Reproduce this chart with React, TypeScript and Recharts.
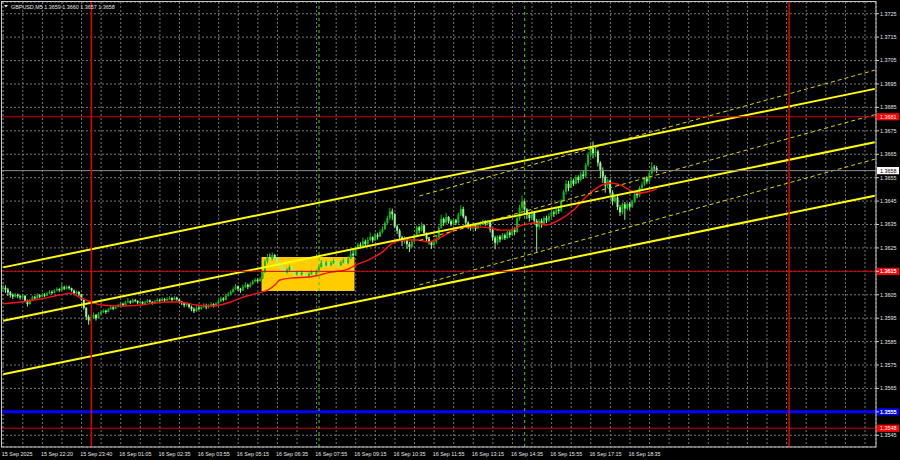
import React from 'react';
import { ComposedChart, Bar, Line, XAxis, YAxis, CartesianGrid, ReferenceLine, ReferenceArea } from 'recharts';

// ---- data (candle values are in pips above 1.3500) ----
const PRICE_BASE = 1.35;
const PIP = 0.0001;
const TOTAL_SLOTS = 357; // visible bar slots on the time axis
const GRID_STEP = 8;
const LABEL_STEP = 16;

const timeLabels = [
  '15 Sep 2025', '15 Sep 22:20', '15 Sep 23:40', '16 Sep 01:05', '16 Sep 02:35', '16 Sep 03:55',
  '16 Sep 05:15', '16 Sep 06:35', '16 Sep 07:55', '16 Sep 09:15', '16 Sep 10:35', '16 Sep 11:55',
  '16 Sep 13:15', '16 Sep 14:35', '16 Sep 15:55', '16 Sep 17:15', '16 Sep 18:35',
];

const yTicks = [
  1.3545, 1.3555, 1.3565, 1.3575, 1.3585, 1.3595, 1.3605, 1.3615, 1.3625, 1.3635,
  1.3645, 1.3655, 1.3665, 1.3675, 1.3685, 1.3695, 1.3705, 1.3715, 1.3725,
];
const yDomain = [1.354, 1.373];

const firstOpen = 107.5;
const closes = [
  108.0, 107.2, 106.0, 105.0,
  104.2, 105.0, 104.4, 103.8, 104.6,
  102.5, 101.0,
  102.8, 104.0, 103.5, 104.8, 104.2,
  105.0, 104.6, 105.6, 106.2, 105.8, 106.8, 107.4, 106.9, 108.2, 107.6, 108.4, 107.8, 106.8,
  105.6, 106.2, 105.2,
  103.0, 99.4, 95.6, 94.0,
  95.2, 96.4, 95.0, 96.8,
  97.6, 98.2, 97.6, 98.8, 99.6, 99.0, 99.8, 100.6,
  101.2, 100.6, 101.8, 102.2, 101.6, 102.8, 102.4, 101.6, 102.0, 101.2, 101.8, 102.6, 102.0, 101.4, 102.2, 102.8, 102.4, 103.2, 102.6,
  103.2, 103.6, 102.8, 103.8, 103.0, 102.2,
  101.4, 100.6, 101.2, 99.8, 98.8, 98.0, 99.4,
  99.0, 99.8, 100.6, 99.6, 100.4, 101.0, 100.2, 101.2,
  102.2, 103.4, 102.8, 104.6, 105.2, 106.2,
  107.4, 108.6, 107.6, 106.8, 108.4, 109.2, 108.4,
  109.6, 110.6, 111.4, 110.8, 111.8,
  114.6, 119.4, 121.0, 120.4, 122.0,
  120.8, 118.2, 117.4, 116.0, 114.6, 115.6, 116.8, 115.2, 114.0,
  114.6, 113.6, 114.4, 113.2, 112.8, 113.8, 114.6, 113.8,
  115.2, 116.8, 118.6, 117.6, 118.8,
  117.8, 118.6, 119.4, 118.2, 117.6, 118.8, 119.6, 118.6, 120.4, 122.6, 121.8,
  124.8, 126.4, 125.8, 127.8, 126.6, 128.4, 129.6, 128.2,
  130.6, 129.8, 131.8, 133.0,
  135.6, 137.8, 140.6, 139.4,
  134.2, 132.4, 129.6, 127.8, 128.6,
  126.6, 125.4, 127.8,
  130.6, 133.8, 132.4, 134.6, 131.4,
  129.0, 127.4, 126.2, 127.6, 128.8,
  133.6, 137.4, 135.8, 138.2,
  136.4, 135.2, 136.8, 135.8,
  139.2, 141.6, 138.4,
  135.8, 134.2, 133.4, 134.8, 133.2, 134.6,
  135.6, 136.4, 135.2, 136.0,
  132.8, 129.4, 127.2, 129.8, 128.6,
  130.4, 129.2, 131.6, 130.6, 132.8, 131.8,
  137.6, 142.2, 144.8,
  141.4, 139.2, 137.8, 140.2, 136.6, 134.0,
  136.6, 135.4, 137.8, 136.8, 138.6,
  140.2, 139.6, 141.4, 140.8,
  145.2, 149.0, 152.4, 150.6,
  153.8, 152.4, 155.2, 154.0, 156.4, 155.6,
  160.4, 164.8,
  167.6, 165.4,
  166.2, 161.4, 158.2,
  155.4, 151.6, 153.8,
  148.6, 145.0, 146.6, 142.4, 140.2, 143.6,
  141.8, 143.8, 142.6, 144.8,
  148.2, 147.4, 150.6, 152.0,
  154.6, 153.4, 156.8, 159.4,
  159.0, 158.0,
];
const highs = [
  109.3, 109.0, 108.0, 106.6,
  105.6, 105.8, 105.5, 105.0, 105.4,
  104.8, 103.0,
  103.4, 104.6, 104.5, 105.6, 105.2,
  105.8, 105.7, 106.3, 107.0, 106.9, 107.4, 108.2, 107.8, 109.8, 108.9, 109.0, 108.9, 108.0,
  107.2, 106.8, 106.6,
  105.4, 103.4, 99.8, 96.5,
  96.5, 97.4, 96.8, 97.5,
  98.2, 98.8, 98.6, 99.4, 100.2, 100.1, 100.5, 101.2,
  102.0, 101.6, 102.4, 103.6, 102.6, 103.4, 103.2, 102.6, 102.6, 102.2, 102.4, 103.2, 103.0, 102.2, 102.8, 103.6, 103.2, 103.9, 103.6,
  104.0, 104.4, 104.0, 104.4, 104.2, 103.2,
  102.4, 101.8, 101.8, 101.4, 100.4, 99.6, 100.2,
  100.0, 100.6, 101.4, 101.2, 101.0, 101.8, 101.4, 101.8,
  102.8, 104.2, 104.0, 105.4, 106.2, 107.0,
  108.2, 109.6, 109.0, 108.0, 109.4, 110.4, 109.8,
  110.4, 111.4, 112.2, 112.0, 112.6,
  115.2, 120.2, 122.4, 122.6, 123.0,
  122.4, 121.2, 118.8, 117.8, 116.4, 116.4, 117.6, 117.2, 115.6,
  115.2, 115.0, 115.4, 114.6, 113.8, 114.6, 115.6, 115.0,
  115.8, 117.6, 119.8, 119.4, 119.6,
  119.0, 119.4, 120.4, 120.0, 118.8, 119.6, 120.6, 120.0, 121.6, 124.6, 125.0,
  125.6, 127.2, 127.4, 129.4, 128.6, 129.6, 131.6, 130.0,
  131.6, 131.4, 132.8, 134.2,
  136.4, 138.8, 142.2, 141.8,
  139.8, 135.0, 133.2, 130.2, 130.0,
  129.4, 127.6, 128.8,
  131.0, 134.6, 134.4, 136.0, 135.0,
  131.6, 129.6, 128.0, 128.4, 130.4,
  134.4, 139.2, 138.0, 140.0,
  138.6, 137.2, 137.6, 137.4,
  140.0, 143.2, 142.6,
  138.8, 136.4, 135.2, 135.6, 135.0, 135.4,
  136.4, 137.2, 136.8, 136.8,
  136.2, 133.4, 130.2, 130.4, 130.6,
  131.4, 131.2, 132.4, 132.4, 133.6, 133.8,
  138.2, 143.4, 147.4,
  145.4, 142.0, 140.0, 141.0, 140.8, 137.4,
  137.4, 137.6, 138.6, 138.8, 139.8,
  141.2, 141.0, 142.6, 142.2,
  145.8, 149.8, 154.0, 153.6,
  155.2, 154.6, 156.2, 156.0, 157.6, 158.2,
  161.2, 166.0,
  169.8, 170.4,
  167.8, 167.0, 162.0,
  159.4, 156.2, 154.6,
  154.0, 149.6, 147.8, 147.2, 143.4, 144.4,
  144.6, 144.4, 144.6, 145.6,
  148.8, 149.4, 151.4, 153.2,
  155.4, 155.6, 157.6, 161.6,
  160.4, 160.0,
];
const lows = [
  106.5, 105.8, 104.5, 103.8,
  103.2, 103.8, 103.5, 102.9, 103.4,
  101.8, 100.0,
  100.8, 102.5, 102.8, 103.3, 103.6,
  103.9, 104.0, 104.4, 105.2, 105.2, 105.6, 106.4, 106.2, 106.6, 107.0, 107.2, 107.2, 106.3,
  104.8, 105.0, 104.4,
  102.4, 98.6, 94.2, 92.2,
  92.8, 94.6, 94.0, 94.8,
  96.4, 97.2, 96.8, 97.4, 98.6, 98.4, 98.9, 99.6,
  100.2, 99.9, 100.4, 101.4, 101.0, 101.4, 101.8, 101.0, 101.2, 100.6, 100.8, 101.6, 101.6, 100.8, 101.2, 102.0, 101.8, 102.2, 101.9,
  102.2, 102.8, 102.2, 102.6, 102.4, 101.4,
  100.6, 99.6, 100.0, 99.2, 98.0, 97.2, 97.6,
  98.4, 98.6, 99.4, 98.8, 99.2, 99.8, 99.6, 99.8,
  100.8, 101.8, 102.2, 102.6, 104.2, 104.8,
  105.8, 107.0, 106.6, 105.8, 106.6, 108.0, 107.4,
  108.0, 109.2, 110.2, 110.2, 110.6,
  111.6, 114.2, 118.4, 119.2, 119.6,
  120.2, 117.6, 116.6, 114.8, 113.4, 114.0, 115.0, 114.4, 112.8,
  113.2, 112.8, 113.2, 112.4, 112.0, 112.4, 113.6, 113.0,
  113.4, 114.8, 116.6, 116.8, 117.2,
  116.8, 117.2, 118.2, 117.4, 116.4, 117.4, 118.4, 117.8, 118.0, 120.2, 120.8,
  121.6, 124.4, 124.8, 125.6, 125.8, 126.2, 127.8, 127.2,
  128.0, 128.6, 129.6, 131.2,
  132.6, 134.8, 136.8, 137.0,
  133.4, 131.0, 128.4, 125.8, 126.8,
  124.6, 123.2, 124.8,
  127.4, 130.0, 131.2, 132.0, 130.2,
  127.6, 126.4, 124.6, 125.0, 126.8,
  128.4, 133.2, 134.4, 135.0,
  135.4, 134.2, 134.6, 134.8,
  135.4, 138.6, 137.6,
  134.8, 133.0, 132.4, 132.8, 132.2, 133.0,
  134.2, 134.8, 134.4, 134.6,
  131.6, 128.0, 124.4, 126.4, 127.4,
  128.6, 128.4, 128.8, 129.4, 130.2, 130.4,
  131.4, 136.6, 140.2,
  139.6, 137.4, 136.2, 136.8, 135.2, 123.4,
  132.8, 133.6, 134.8, 135.6, 136.0,
  137.8, 138.2, 139.0, 139.6,
  140.2, 144.8, 147.8, 149.2,
  150.6, 151.4, 152.0, 152.6, 153.4, 154.4,
  155.0, 159.6,
  163.6, 163.2,
  163.8, 159.8, 154.8,
  152.8, 148.6, 150.4,
  147.8, 143.2, 144.2, 141.2, 138.6, 139.2,
  137.0, 141.0, 141.2, 142.0,
  144.2, 146.2, 146.8, 149.6,
  151.4, 152.4, 153.0, 156.2,
  157.6, 157.0,
];

// red moving average, read at selected bars
const maBars = [0, 7, 15, 23, 28, 31, 36, 40, 48, 56, 66, 72, 79, 85, 93, 98, 104, 108, 111, 113, 118, 125, 129, 134, 140, 144, 149, 155, 159, 164, 169, 174, 178, 182, 186, 190, 196, 199, 203, 207, 212, 218, 222, 227, 233, 238, 243, 248, 252, 256, 259, 263, 267];
const maPips = [101.1, 101.9, 103.2, 104.9, 105.7, 104.0, 101.9, 100.6, 100.2, 100.6, 101.9, 101.9, 100.6, 100.2, 101.9, 104.0, 105.7, 107.0, 109.2, 111.3, 112.2, 112.6, 113.4, 114.7, 115.6, 117.7, 119.8, 123.3, 127.1, 128.4, 128.4, 127.5, 129.2, 131.4, 133.5, 133.9, 133.9, 133.5, 132.6, 132.6, 134.8, 135.6, 134.8, 136.9, 141.2, 146.7, 151.0, 152.7, 151.9, 149.7, 148.4, 148.9, 150.2];

// regression channels: [start bar, end bar], prices (pips) at start / end for each line
const solidChannelBars = [0, 356];
const solidChannelStart = [116.7, 93.9, 71.1];
const solidChannelEnd = [192.9, 170.1, 147.3];
const dashedChannelBars = [170, 356];
const dashedChannelStart = [147.2, 128.2, 109.2];
const dashedChannelEnd = [200.9, 181.9, 162.9];

// horizontal levels
const redLevels = [1.3681, 1.3615, 1.3548];
const blueLevel = 1.3555;
const bidLevel = 1.3658;
// vertical markers (bar index)
const dayStartBars = [36, 321];
const sessionBars = [129, 213];
// highlighted box
const boxBars = [106, 143];
const boxPrices = [1.36066, 1.36211];

const titleText = 'GBPUSD,M5  1.3659 1.3660 1.3657 1.3658';

// ---- styles ----
const FONT = "'Liberation Sans', Arial, sans-serif";
const TEXT = '#e6e6e6';
const FRAME = '#c8c8c8';
const GRID = '#767676';
const BULL = '#14b814';
const BEAR = '#98f598';
const YELLOW = '#ffff00';

const toPrice = (p: number) => +(PRICE_BASE + p * PIP).toFixed(5);

const rows = Array.from({ length: TOTAL_SLOTS }, (_, i) => {
  const has = i < closes.length;
  const row: any = { i };
  if (has) {
    const o = i === 0 ? firstOpen : closes[i - 1];
    row.o = toPrice(o);
    row.c = toPrice(closes[i]);
    row.range = [toPrice(lows[i]), toPrice(highs[i])];
  } else {
    row.range = null;
  }
  const k = maBars.indexOf(i);
  row.ma = k >= 0 ? toPrice(maPips[k]) : null;
  return row;
});

const gridTicks = Array.from({ length: Math.floor((TOTAL_SLOTS - 1) / GRID_STEP) + 1 }, (_, k) => k * GRID_STEP);

const Candle = (props: any) => {
  const { x, y, width, height, payload } = props;
  if (!payload || !payload.range || x == null) return null;
  const [l, h] = payload.range;
  const top = Math.min(y, y + height);
  const bot = Math.max(y, y + height);
  const py = (v: number) => (h === l ? top : top + ((h - v) / (h - l)) * (bot - top));
  const yo = py(payload.o);
  const yc = py(payload.c);
  const up = payload.c >= payload.o;
  const color = up ? BULL : BEAR;
  const cx = x + width / 2;
  const bTop = Math.min(yo, yc);
  const bH = Math.max(Math.abs(yo - yc), 0.9);
  return (
    <g>
      <line x1={cx} x2={cx} y1={Math.min(top, bTop)} y2={Math.max(bot, bTop + bH)} stroke={color} strokeWidth={1} />
      <rect x={cx - 1} y={bTop} width={2} height={bH} fill={color} />
    </g>
  );
};

const XTick = (props: any) => {
  const { x, y, payload } = props;
  const v = payload.value;
  if (v % LABEL_STEP !== 0) return null;
  const label = timeLabels[v / LABEL_STEP];
  if (!label) return null;
  return (
    <text x={x - 1.4} y={y + 8.6} textAnchor="start" fill={TEXT} fontSize={5.4} fontFamily={FONT}>
      {label}
    </text>
  );
};

const PriceTag = (props: any) => {
  const { viewBox, bg, fg, value } = props;
  if (!viewBox) return null;
  const x = viewBox.x + viewBox.width + 1;
  const y = viewBox.y;
  return (
    <g>
      <rect x={x} y={y - 3.6} width={22} height={7.2} fill={bg} />
      <text x={x + 3} y={y + 2} fill={fg} fontSize={5.4} fontFamily={FONT}>
        {value.toFixed(4)}
      </text>
    </g>
  );
};

export default function App() {
  return (
    <div style={{ position: 'fixed', left: 0, top: 0, width: 900, height: 460, background: '#000', overflow: 'hidden' }}>
      <ComposedChart
        width={900}
        height={460}
        data={rows}
        margin={{ top: 2, right: 0, bottom: 0, left: 2 }}
        barCategoryGap={0}
        barGap={0}
      >
        <CartesianGrid stroke={GRID} strokeDasharray="2 2" strokeWidth={1} />
        <XAxis
          dataKey="i"
          type="category"
          ticks={gridTicks}
          interval={0}
          tick={<XTick />}
          tickLine={false}
          axisLine={false}
          tickSize={0}
          tickMargin={0}
          height={13}
        />
        <YAxis
          orientation="right"
          type="number"
          domain={yDomain}
          allowDataOverflow
          ticks={yTicks}
          interval={0}
          width={24}
          tickSize={3}
          tickMargin={1}
          axisLine={false}
          tickLine={{ stroke: FRAME }}
          tick={{ fill: TEXT, fontSize: 5.4, fontFamily: FONT }}
          tickFormatter={(v: number) => v.toFixed(4)}
        />
        <ReferenceArea
          x1={boxBars[0]}
          x2={boxBars[1]}
          y1={boxPrices[0]}
          y2={boxPrices[1]}
          fill="#ffcc00"
          fillOpacity={1}
          stroke="none"
        />
        <Bar dataKey="range" barSize={2} shape={(p: any) => <Candle {...p} />} isAnimationActive={false} />
        <Line
          dataKey="ma"
          type="monotone"
          stroke="#ff1010"
          strokeWidth={1.4}
          dot={false}
          connectNulls
          isAnimationActive={false}
        />
        {solidChannelStart.map((s, k) => (
          <ReferenceLine
            key={'sc' + k}
            segment={[
              { x: solidChannelBars[0], y: toPrice(s) },
              { x: solidChannelBars[1], y: toPrice(solidChannelEnd[k]) },
            ]}
            stroke={YELLOW}
            strokeWidth={2}
          />
        ))}
        {dashedChannelStart.map((s, k) => (
          <ReferenceLine
            key={'dc' + k}
            segment={[
              { x: dashedChannelBars[0], y: toPrice(s) },
              { x: dashedChannelBars[1], y: toPrice(dashedChannelEnd[k]) },
            ]}
            stroke="#d8d800"
            strokeWidth={1}
            strokeDasharray="4 3"
          />
        ))}
        {redLevels.map((v) => (
          <ReferenceLine
            key={'rl' + v}
            y={v}
            stroke="#d00000"
            strokeWidth={1}
            label={<PriceTag bg="#ff0000" fg="#ffffff" value={v} />}
          />
        ))}
        <ReferenceLine y={blueLevel} stroke="#0000ff" strokeWidth={3} label={<PriceTag bg="#0000ff" fg="#ffffff" value={blueLevel} />} />
        <ReferenceLine y={bidLevel} stroke="#8c8c8c" strokeWidth={1} label={<PriceTag bg="#ffffff" fg="#000000" value={bidLevel} />} />
        {dayStartBars.map((b) => (
          <ReferenceLine key={'dv' + b} x={b} stroke="#e00000" strokeWidth={1.5} />
        ))}
        {sessionBars.map((b) => (
          <ReferenceLine key={'sv' + b} x={b} stroke="#4cc800" strokeWidth={1} strokeDasharray="3 3" />
        ))}
      </ComposedChart>
      <svg width={900} height={460} style={{ position: 'absolute', left: 0, top: 0, pointerEvents: 'none' }}>
        <rect x={1.5} y={1.5} width={874.5} height={445.5} fill="none" stroke={FRAME} strokeWidth={1} />
        <polygon points="4,5 8,5 6,7.5" fill={TEXT} />
        <text x={11} y={9} fill={TEXT} fontSize={5.4} fontFamily={FONT}>
          {titleText}
        </text>
      </svg>
    </div>
  );
}
